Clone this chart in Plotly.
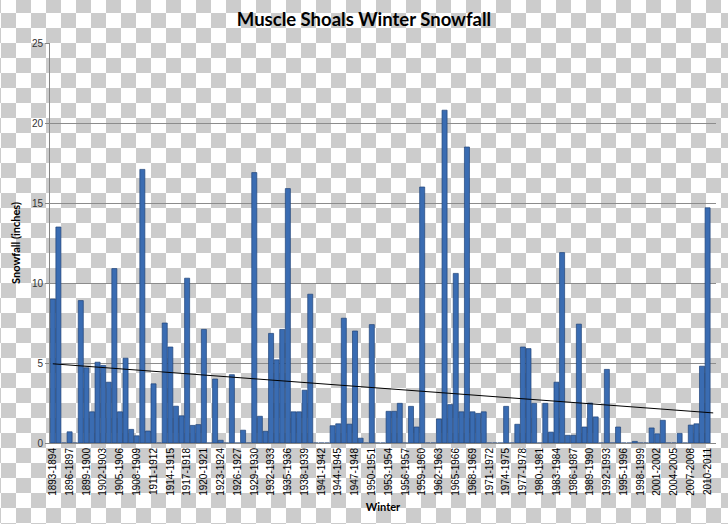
import base64
import plotly.graph_objects as go

# ---------------- data ----------------
winters = [f"{y}-{y + 1}" for y in range(1893, 2012)]  # 119 categories (last empty)

snowfall = [
    9.0, 13.5, 0, 0.7, 0, 8.9, 4.7, 1.95, 5.05, 4.85,          # 1893-1903
    3.8, 10.9, 1.95, 5.3, 0.85, 0.45, 17.1, 0.75, 3.7, 0,       # 1903-1913
    7.5, 6.0, 2.3, 1.7, 10.3, 1.1, 1.15, 7.1, 0, 4.0,           # 1913-1923
    0.17, 0, 4.27, 0, 0.8, 0, 16.9, 1.67, 0.73, 6.85,           # 1923-1933
    5.2, 7.1, 15.9, 1.95, 1.95, 3.3, 9.3, 0, 0, 0,              # 1933-1943
    1.08, 1.2, 7.8, 1.18, 7.0, 0.3, 0, 7.4, 0, 0,               # 1943-1953
    1.98, 1.98, 2.48, 0, 2.29, 1.0, 16.0, 0, 0, 1.5,            # 1953-1963
    20.8, 2.4, 10.6, 1.95, 18.5, 1.95, 1.85, 1.95, 0, 0,        # 1963-1973
    0, 2.29, 0, 1.17, 6.0, 5.9, 2.48, 0, 2.48, 0.68,            # 1973-1983
    3.8, 11.9, 0.48, 0.48, 7.43, 1.0, 2.5, 1.63, 0, 4.6,        # 1983-1993
    0, 1.0, 0, 0, 0.1, 0, 0, 0.94, 0.58, 1.42,                  # 1993-2003
    0, 0, 0.6, 0, 1.12, 1.2, 4.8, 14.7, None,                   # 2003-2012
]

tick_labels = winters[:118:3]

trend_x = [winters[0], winters[-1]]
trend_y = [4.95, 1.88]

# ---------------- geometry ----------------
W, H = 728, 524
ML, MR, MT, MB = 50, 12, 43, 81
PW, PH = W - ML - MR, H - MT - MB

# checkerboard background (transparent-PNG look)
svg = (
    f"<svg xmlns='http://www.w3.org/2000/svg' width='{W}' height='{H}'>"
    "<defs><pattern id='p' width='30' height='30' patternUnits='userSpaceOnUse' x='1' y='13'>"
    "<rect width='30' height='30' fill='#ffffff'/>"
    "<rect width='15' height='15' fill='#cccccc'/>"
    "<rect x='15' y='15' width='15' height='15' fill='#cccccc'/>"
    "</pattern></defs>"
    f"<rect width='{W}' height='{H}' fill='url(#p)'/></svg>"
)
svg_uri = "data:image/svg+xml;base64," + base64.b64encode(svg.encode()).decode()

FONT = "Lato, 'Open Sans', sans-serif"

fig = go.Figure()
fig.add_bar(
    x=winters,
    y=snowfall,
    marker=dict(color="#3A6CB2", line=dict(color="#1F4478", width=0.7)),
    showlegend=False,
)
fig.add_scatter(
    x=trend_x,
    y=trend_y,
    mode="lines",
    line=dict(color="#000000", width=1),
    showlegend=False,
)

fig.update_layout(
    width=W,
    height=H,
    margin=dict(l=ML, r=MR, t=MT, b=MB, pad=0),
    paper_bgcolor="#ffffff",
    plot_bgcolor="rgba(0,0,0,0)",
    bargap=0.1,
    font=dict(family=FONT, color="#000000"),
    title=dict(
        text="<b>Muscle Shoals Winter Snowfall</b>",
        font=dict(family=FONT, size=18.5, color="#000000"),
        x=0.5,
        xanchor="center",
        y=1 - 20 / H,
        yanchor="middle",
    ),
    images=[
        dict(
            source=svg_uri,
            xref="paper",
            yref="paper",
            x=-ML / PW,
            y=1 + MT / PH,
            sizex=W / PW,
            sizey=H / PH,
            xanchor="left",
            yanchor="top",
            sizing="stretch",
            layer="below",
        )
    ],
    xaxis=dict(
        type="category",
        categoryorder="array",
        categoryarray=winters,
        tickmode="array",
        tickvals=tick_labels,
        ticktext=tick_labels,
        tickangle=-90,
        tickfont=dict(family="'Liberation Sans', Arial, sans-serif", size=10, color="#000000"),
        showgrid=False,
        showline=True,
        linecolor="#868686",
        linewidth=1,
        ticks="",
        range=[-0.5, 118.5],
        title=dict(text="<b>Winter</b>", font=dict(family=FONT, size=11), standoff=8),
    ),
    yaxis=dict(
        range=[0, 25],
        dtick=5,
        tick0=0,
        showgrid=True,
        gridcolor="#8c8c8c",
        gridwidth=1,
        showline=True,
        linecolor="#868686",
        linewidth=1,
        ticks="outside",
        ticklen=4,
        tickcolor="#868686",
        tickfont=dict(family="'Liberation Sans', Arial, sans-serif", size=10, color="#333333"),
        zeroline=False,
        title=dict(text="<b>Snowfall (inches)</b>", font=dict(family=FONT, size=11), standoff=9),
    ),
)

fig.write_html("out.html")
